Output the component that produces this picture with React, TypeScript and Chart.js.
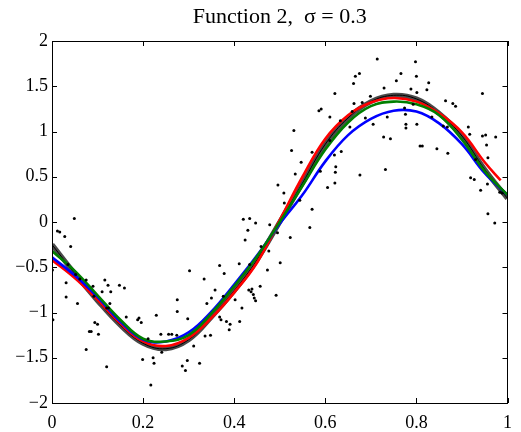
import React, { useEffect, useRef } from "react";
import { Chart, registerables } from "chart.js";
Chart.register(...registerables);

const titleText = "Function 2,  σ = 0.3";
const xTicks = [0, 0.2, 0.4, 0.6, 0.8, 1];
const yTicks = [-2, -1.5, -1, -0.5, 0, 0.5, 1, 1.5, 2];

const curveX = [0, 0.05, 0.1, 0.15, 0.2, 0.25, 0.3, 0.35, 0.4, 0.45, 0.5, 0.55, 0.6, 0.65, 0.7, 0.75, 0.8, 0.85, 0.9, 0.95, 1];
const grayY = [-0.25, -0.57, -0.87, -1.14, -1.34, -1.4, -1.3, -1.05, -0.76, -0.42, 0.0, 0.43, 0.86, 1.15, 1.33, 1.4, 1.36, 1.2, 0.95, 0.58, 0.26];
const greenY = [-0.32, -0.54, -0.81, -1.08, -1.29, -1.32, -1.25, -1.01, -0.71, -0.38, 0.0, 0.4, 0.8, 1.1, 1.28, 1.33, 1.3, 1.18, 0.91, 0.56, 0.3];
const blueY = [-0.39, -0.59, -0.83, -1.1, -1.3, -1.32, -1.22, -0.99, -0.69, -0.37, -0.02, 0.3, 0.67, 0.96, 1.14, 1.23, 1.22, 1.09, 0.86, 0.54, 0.3];
const redX = [0, 0.05, 0.1, 0.15, 0.2, 0.25, 0.3, 0.35, 0.4, 0.45, 0.5, 0.55, 0.6, 0.65, 0.7, 0.75, 0.8, 0.85, 0.9, 0.95, 0.985];
const redY = [-0.42, -0.62, -0.86, -1.12, -1.32, -1.37, -1.28, -1.06, -0.78, -0.45, 0.02, 0.5, 0.92, 1.18, 1.32, 1.37, 1.33, 1.2, 0.99, 0.66, 0.46];

const dotX = [
  0.049, 0.012, 0.017, 0.028, 0.041, 0.001, 0.035, 0.052, 0.061, 0.075, 0.031, 0.116, 0.123, 0.09, 0.148, 0.159, 0.11, 0.129, 0.092, 0.031,
  0.056, 0.127, 0.12, 0.124, 0.002, 0.094, 0.1, 0.082, 0.086, 0.102, 0.075, 0.12, 0.163, 0.188, 0.191, 0.196, 0.229, 0.211, 0.199, 0.222,
  0.224, 0.217, 0.239, 0.256, 0.263, 0.274, 0.241, 0.286, 0.293, 0.297, 0.311, 0.324, 0.298, 0.275, 0.275, 0.302, 0.334, 0.336, 0.348, 0.34,
  0.35, 0.358, 0.368, 0.378, 0.376, 0.368, 0.371, 0.383, 0.391, 0.389, 0.402, 0.411, 0.417, 0.412, 0.42, 0.434, 0.447, 0.43, 0.424, 0.434,
  0.432, 0.439, 0.437, 0.442, 0.444, 0.447, 0.457, 0.473, 0.478, 0.459, 0.476, 0.714, 0.666, 0.675, 0.662, 0.729, 0.621, 0.699, 0.663, 0.681,
  0.586, 0.591, 0.659, 0.61, 0.633, 0.688, 0.705, 0.654, 0.531, 0.728, 0.61, 0.526, 0.571, 0.635, 0.62, 0.547, 0.623, 0.589, 0.622, 0.534,
  0.676, 0.732, 0.621, 0.605, 0.496, 0.509, 0.51, 0.544, 0.571, 0.566, 0.495, 0.523, 0.501, 0.492, 0.798, 0.766, 0.8, 0.756, 0.827, 0.788,
  0.823, 0.801, 0.945, 0.864, 0.88, 0.886, 0.793, 0.774, 0.736, 0.834, 0.776, 0.777, 0.777, 0.801, 0.859, 0.868, 0.914, 0.917, 0.743, 0.808,
  0.813, 0.845, 0.869, 0.945, 0.952, 0.974, 0.954, 0.957, 0.93, 0.919, 0.927, 0.941, 0.956, 0.983, 0.988, 0.957, 0.972,
];
const dotY = [
  0.04, -0.1, -0.11, -0.16, -0.27, -0.53, -0.47, -0.58, -0.63, -0.64, -0.67, -0.64, -0.7, -0.71, -0.7, -0.73, -0.77, -0.77, -0.82, -0.83,
  -0.9, -0.9, -0.95, -0.95, -1.08, -1.11, -1.13, -1.21, -1.21, -1.24, -1.41, -1.6, -1.05, -1.08, -1.06, -1.11, -1.03, -1.29, -1.52, -1.5,
  -1.56, -1.8, -1.24, -1.24, -1.24, -1.25, -1.44, -1.59, -1.64, -1.53, -1.37, -1.56, -1.07, -0.86, -0.99, -0.54, -0.63, -1.26, -1.25, -0.9,
  -0.84, -0.75, -0.48, -0.57, -0.82, -1.05, -1.08, -1.1, -1.13, -1.19, -0.86, -0.46, -0.95, -1.1, 0.03, 0.04, -0.01, -0.09, -0.2, -0.47,
  -0.75, -0.74, -0.77, -0.8, -0.84, -0.87, -0.71, -0.53, -0.03, -0.27, -0.32, 1.8, 1.61, 1.64, 1.53, 1.48, 1.42, 1.39, 1.31, 1.32,
  1.23, 1.25, 1.22, 1.16, 1.12, 1.15, 1.08, 1.05, 1.01, 0.94, 0.9, 0.79, 0.77, 0.78, 0.74, 0.66, 0.61, 0.56, 0.55, 0.53,
  0.52, 0.58, 0.43, 0.38, 0.41, 0.32, 0.21, 0.24, 0.14, -0.06, -0.12, -0.17, -0.45, -0.81, 1.77, 1.64, 1.61, 1.56, 1.54, 1.47,
  1.46, 1.43, 1.42, 1.34, 1.31, 1.28, 1.3, 1.26, 1.16, 1.16, 1.19, 1.08, 1.04, 1.08, 1.06, 1.05, 1.05, 0.97, 0.92, 0.84,
  0.84, 0.81, 0.76, 0.95, 0.96, 0.94, 0.85, 0.71, 0.69, 0.49, 0.47, 0.35, 0.42, 0.33, 0.32, 0.09, -0.01,
];

const FONT = '"Liberation Serif", "Times New Roman", serif';

const fmt = (v: number) => {
  const r = Math.round(v * 10) / 10;
  return (r < 0 ? "\u2212" : "") + String(Math.abs(r));
};

const pts = (xs: number[], ys: number[]) => xs.map((x, i) => ({ x, y: ys[i] }));

const boxPlugin = {
  id: "matlabBox",
  afterDraw(chart: any) {
    const { ctx, chartArea: a, scales } = chart;
    ctx.save();
    ctx.strokeStyle = "#000";
    ctx.lineWidth = 1;
    ctx.strokeRect(Math.round(a.left) + 0.5, Math.round(a.top) + 0.5, Math.round(a.right - a.left) - 1, Math.round(a.bottom - a.top));
    const L = 5;
    ctx.beginPath();
    xTicks.forEach((v) => {
      const px = Math.round(scales.x.getPixelForValue(v)) + 0.5;
      ctx.moveTo(px, a.bottom);
      ctx.lineTo(px, a.bottom - L);
      ctx.moveTo(px, a.top);
      ctx.lineTo(px, a.top + L);
    });
    yTicks.forEach((v) => {
      const py = Math.round(scales.y.getPixelForValue(v)) + 0.5;
      ctx.moveTo(a.left, py);
      ctx.lineTo(a.left + L, py);
      ctx.moveTo(a.right, py);
      ctx.lineTo(a.right - L, py);
    });
    ctx.stroke();
    ctx.fillStyle = "#000";
    ctx.font = `22px ${FONT}`;
    ctx.textAlign = "center";
    ctx.textBaseline = "alphabetic";
    ctx.fillText(titleText, (a.left + a.right) / 2, 23);
    ctx.restore();
  },
};

export default function App() {
  const ref = useRef<HTMLCanvasElement>(null);
  useEffect(() => {
    if (!ref.current) return;
    const lineDs = (label: string, data: any[], color: string, width: number) => ({
      label,
      data,
      showLine: true,
      borderColor: color,
      backgroundColor: color,
      borderWidth: width,
      pointRadius: 0,
      tension: 0.4,
      fill: false,
    });
    const chart = new Chart(ref.current, {
      type: "scatter",
      data: {
        datasets: [
          {
            label: "data",
            data: pts(dotX, dotY),
            pointRadius: 1.5,
            pointBorderWidth: 0,
            backgroundColor: "#000",
            borderColor: "#000",
            showLine: false,
          },
          lineDs("green", pts(curveX, greenY), "#007f00", 2.6),
          lineDs("blue", pts(curveX, blueY), "#0000ff", 2.6),
          lineDs("red", pts(redX, redY), "#ff0000", 2.6),
          lineDs("true", pts(curveX, grayY), "#000000", 1),
          lineDs("gray", pts(curveX, grayY), "#4a4a4a", 5),
        ] as any,
      },
      options: {
        responsive: false,
        animation: false,
        devicePixelRatio: 1,
        layout: { padding: { top: 41, right: 1, left: 0, bottom: 0 } },
        plugins: { legend: { display: false }, tooltip: { enabled: false }, title: { display: false } },
        scales: {
          x: {
            type: "linear",
            min: 0,
            max: 1,
            afterBuildTicks: (s: any) => {
              s.ticks = xTicks.map((v) => ({ value: v }));
            },
            afterFit: (s: any) => {
              s.height = 29;
            },
            grid: { display: false, drawTicks: false },
            border: { display: false },
            ticks: {
              callback: (v: any) => fmt(Number(v)),
              font: { family: FONT, size: 18 },
              color: "#000",
              padding: 9,
              maxRotation: 0,
              autoSkip: false,
            },
          },
          y: {
            type: "linear",
            min: -2,
            max: 2,
            afterBuildTicks: (s: any) => {
              s.ticks = yTicks.map((v) => ({ value: v }));
            },
            afterFit: (s: any) => {
              s.width = 52;
            },
            grid: { display: false, drawTicks: false },
            border: { display: false },
            ticks: {
              callback: (v: any) => fmt(Number(v)),
              font: { family: FONT, size: 18 },
              color: "#000",
              padding: 4,
              autoSkip: false,
            },
          },
        },
      },
      plugins: [boxPlugin],
    });
    return () => chart.destroy();
  }, []);
  return (
    <div style={{ position: "fixed", left: 0, top: 0, width: 521, height: 432, background: "#fff" }}>
      <canvas ref={ref} width={521} height={432} />
    </div>
  );
}
